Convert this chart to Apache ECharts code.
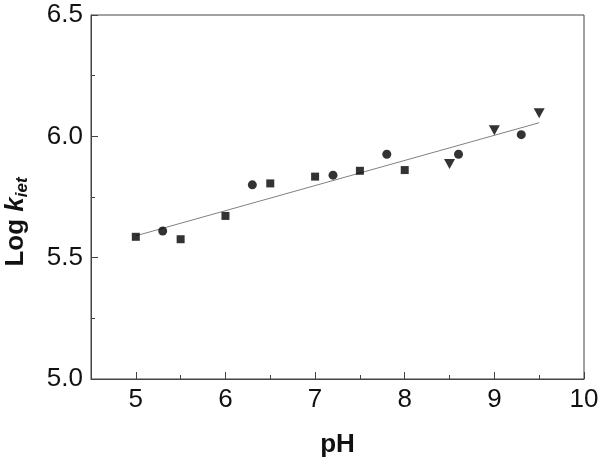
<!DOCTYPE html>
<html><head><meta charset="utf-8">
<script src="https://cdn.jsdelivr.net/npm/echarts@6/dist/echarts.min.js"></script>
<style>html,body{margin:0;padding:0;background:#fff}#c{width:600px;height:460px}</style>
</head><body><div id="c"></div>
<script>
var squares = [[5.0,5.586],[5.5,5.576],[6.0,5.672],[6.5,5.806],[7.0,5.834],[7.5,5.858],[8.0,5.861]];
var circles = [[5.3,5.61],[6.3,5.80],[7.2,5.84],[7.8,5.926],[8.6,5.926],[9.3,6.007]];
var triangles = [[8.5,5.886],[9.0,6.025],[9.5,6.095]];
var fitLine = [[5.0,5.59],[9.5,6.056]];
var xTicks = [5,6,7,8,9,10];
var xMinorTicks = [4.5,5.5,6.5,7.5,8.5,9.5];
var yTicks = [5.0,5.5,6.0,6.5];

var axisColor = '#444';
var font = 'Liberation Sans';
var chart = echarts.init(document.getElementById('c'));
chart.setOption({
  animation:false,
  grid:{left:91,right:16,top:15,bottom:81,show:true,borderColor:axisColor,borderWidth:1,
    containLabel:false,outerBoundsMode:'none'},
  xAxis:[{type:'value',min:4.5,max:10,
    axisLine:{show:true,onZero:false,lineStyle:{color:axisColor}},
    axisTick:{show:true,inside:true,length:7,customValues:xTicks,lineStyle:{color:axisColor}},
    splitLine:{show:false},
    axisLabel:{margin:8,fontSize:26,fontFamily:font,color:'#111',customValues:xTicks,
      formatter:function(v){return String(v);}},
    name:'pH',nameLocation:'middle',nameGap:53,
    nameTextStyle:{fontSize:26,fontWeight:'bold',fontFamily:font,color:'#111'}
  },{type:'value',min:4.5,max:10,position:'bottom',
    axisLine:{show:false},
    axisTick:{show:true,inside:true,length:4,customValues:xMinorTicks,lineStyle:{color:axisColor}},
    splitLine:{show:false},axisLabel:{show:false}
  }],
  yAxis:{type:'value',min:5.0,max:6.5,interval:0.5,
    axisLine:{show:true,onZero:false,lineStyle:{color:axisColor}},
    axisTick:{show:true,inside:true,length:7,lineStyle:{color:axisColor}},
    minorTick:{show:true,splitNumber:2,length:4,lineStyle:{color:axisColor}},
    splitLine:{show:false},
    axisLabel:{margin:8,fontSize:26,fontFamily:font,color:'#111',
      formatter:function(v){return v.toFixed(1);}},
    name:'{a|Log }{b|k}{c|iet}',nameLocation:'middle',nameGap:60,
    nameTextStyle:{padding:[0,50,0,0],rich:{
      a:{fontSize:26,fontWeight:'bold',fontFamily:font,color:'#111'},
      b:{fontSize:26,fontWeight:'bold',fontStyle:'italic',fontFamily:font,color:'#111'},
      c:{fontSize:17,fontWeight:'bold',fontStyle:'italic',fontFamily:font,color:'#111',padding:[14,0,0,0]}
    }}
  },
  series:[
    {type:'line',data:fitLine,symbol:'none',lineStyle:{color:'#808080',width:1},z:1},
    {type:'scatter',data:squares,symbol:'rect',symbolSize:8,itemStyle:{color:'#000'},z:3},
    {type:'scatter',data:circles,symbol:'circle',symbolSize:9,itemStyle:{color:'#000'},z:3},
    {type:'scatter',data:triangles,symbol:'triangle',symbolRotate:180,symbolSize:[11,10],itemStyle:{color:'#000'},z:3}
  ]
});
</script></body></html>
